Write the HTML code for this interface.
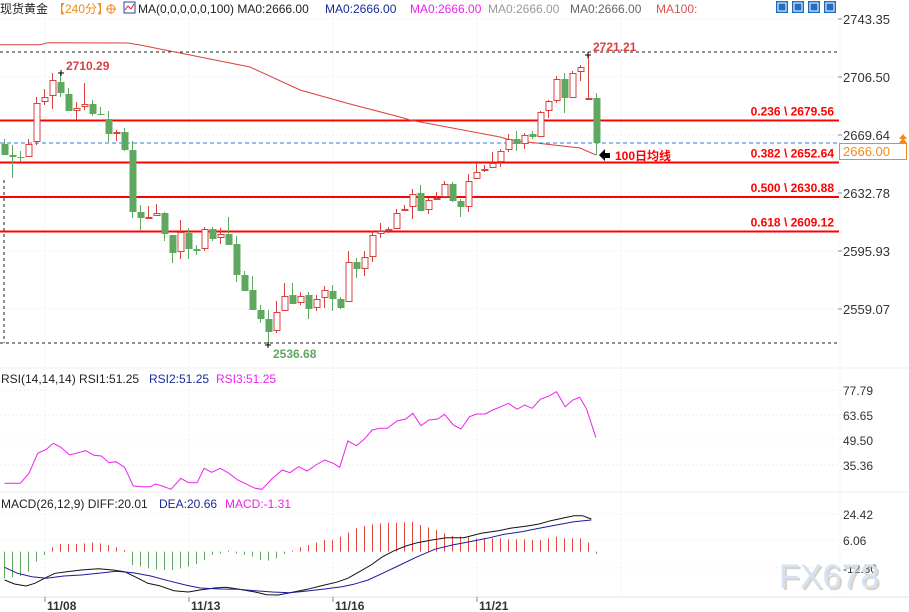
<!DOCTYPE html>
<html><head><meta charset="utf-8"><style>
html,body{margin:0;padding:0;background:#fff;}
body{width:909px;height:612px;overflow:hidden;position:relative;font-family:"Liberation Sans","Noto Sans CJK SC",sans-serif;}
svg{position:absolute;left:0;top:0;}
text{font-family:"Liberation Sans","Noto Sans CJK SC",sans-serif;}
</style></head><body>
<svg id="s" width="909" height="612" viewBox="0 0 909 612" xmlns="http://www.w3.org/2000/svg"></svg>
<script>
var S=document.getElementById('s'),h='';
function L(x1,y1,x2,y2,c,w,d){h+='<line x1="'+x1+'" y1="'+y1+'" x2="'+x2+'" y2="'+y2+'" stroke="'+c+'" stroke-width="'+(w||1)+'"'+(d?' stroke-dasharray="'+d+'"':'')+'/>';}
function T(x,y,t,c,sz,a,b){h+='<text x="'+x+'" y="'+y+'" fill="'+c+'" font-size="'+(sz||12)+'"'+(a?' text-anchor="'+a+'"':'')+(b?' font-weight="bold"':'')+'>'+t+'</text>';}
function P(pts,c,w){h+='<polyline fill="none" stroke="'+c+'" stroke-width="'+(w||1)+'" points="'+pts.map(function(p){return p[0]+','+p[1]}).join(' ')+'"/>';}
// grids
[19,77,135,193,251,309].forEach(function(y){L(0,y,839,y,'#e4e4e4',1,'1,3');});
[45,189,333,477,621].forEach(function(x){L(x,18,x,597,'#e4e4e4',1,'1,3');});
[390,415,440,465].forEach(function(y){L(0,y,839,y,'#e4e4e4',1,'1,3');});
[514,540,568].forEach(function(y){L(0,y,839,y,'#e4e4e4',1,'1,3');});
L(0,368,909,368,'#ececec',1);L(0,492,909,492,'#ececec',1);L(0,597,909,597,'#dde2e8',1);
L(840,18,840,597,'#e0e0e0',1,'1,3');
// header
T(0,13,'现货黄金','#222',12);T(53,13,'【240分】','#f08a1a',12);
h+='<circle cx="111" cy="9" r="4" fill="none" stroke="#f08a1a"/>';L(106,9,116,9,'#f08a1a');L(111,4,111,14,'#f08a1a');
h+='<rect x="124" y="2" width="11" height="11" fill="#fff" stroke="#2244aa"/>';P([[125,10],[128,6],[131,9],[134,4]],'#d22',1);
T(138,13,'MA(0,0,0,0,0,100) MA0:2666.00','#222',12);T(325,13,'MA0:2666.00','#1a2a9a',12);T(410,13,'MA0:2666.00','#ee22ee',12);T(488,13,'MA0:2666.00','#999',12);T(570,13,'MA0:2666.00','#666',12);T(656,13,'MA100:','#e05050',12);
[776,792,808,824].forEach(function(x){h+='<rect x="'+x+'" y="1" width="12" height="12" fill="#1f6fc0"/><rect x="'+(x+2)+'" y="3" width="8" height="8" fill="none" stroke="#fff"/>';});
// axis labels
[[19,'2743.35'],[77,'2706.50'],[135,'2669.64'],[193,'2632.78'],[251,'2595.93'],[309,'2559.07']].forEach(function(a){L(838,a[0],842,a[0],'#888');T(843,a[0]+5,a[1],'#333',13);});
// dashed
L(0,52,839,52,'#222',1,'3,3');L(0,343,839,343,'#222',1,'3,3');L(4,180,4,343,'#222',1,'3,3');
// fib lines
[[120.5,'0.236 \\ 2679.56'],[162.5,'0.382 \\ 2652.64'],[197,'0.500 \\ 2630.88'],[231.5,'0.618 \\ 2609.12']].forEach(function(a){L(0,a[0],839,a[0],'#ff0000',2);T(834,a[0]-5,a[1],'#ff0000',12,'end',1);});
L(0,143,839,143,'#2a7fd8',1,'4,3');
// MA100
P([[0,44.7],[40,44.7],[48,42.7],[128,43],[140,45],[175,52],[250,67],[300,90],[350,104],[400,117],[410,120],[500,137],[510,140],[580,148],[596,155]],'#d9413f',1);
// candles [x,o_top,o_bot,hi,lo,green]
var C=[[4,144,155,139,155,1],[12,155,157,145,178,1],[20,157,158,151,162,1],[28,144,157,139,157,0],[36,103,142,97,145,0],[44,97,102,89,105,0],[52,80,96,73,109,0],[60,82,93,73,97,1],[68,94,111,88,111,1],[76,108,111,102,120,0],[84,104,107,83,110,0],[92,104,114,100,116,1],[100,114,115,107,115,1],[108,119,134,111,142,1],[116,132,133,130,141,0],[124,132,150,128,151,1],[132,150,212,141,218,1],[140,212,218,205,230,1],[148,217,218,206,218,0],[156,213,216,204,216,0],[164,213,234,212,241,1],[172,235,253,235,263,1],[180,232,252,220,259,0],[188,233,249,228,259,1],[196,249,251,245,255,1],[204,229,249,227,251,0],[212,229,239,227,241,1],[220,234,238,228,244,0],[228,234,245,217,245,1],[236,244,275,236,282,1],[244,275,291,271,291,1],[252,290,310,276,310,1],[260,310,319,305,323,1],[268,319,332,310,345,1],[276,312,331,301,333,0],[284,296,311,283,311,0],[292,295,304,283,304,1],[300,296,303,292,305,0],[308,295,309,292,319,1],[316,299,308,295,311,0],[324,290,298,286,308,0],[332,291,299,285,311,1],[340,299,308,297,309,1],[348,262,302,251,302,0],[356,262,269,258,278,1],[364,257,269,251,276,0],[372,235,257,231,262,0],[380,231,234,223,238,0],[388,229,230,227,233,0],[396,213,229,209,229,0],[404,209,211,205,211,0],[412,194,207,189,219,0],[420,193,211,185,211,1],[428,200,210,198,214,0],[436,198,199,192,199,0],[444,184,197,181,197,0],[452,184,201,182,202,1],[460,201,207,199,217,1],[468,181,207,174,212,0],[476,172,179,161,179,0],[484,169,170,165,172,0],[492,163,168,152,168,0],[500,151,162,149,167,0],[508,139,150,134,152,0],[516,139,144,131,151,1],[524,135,144,133,149,0],[532,134,137,131,139,1],[540,112,137,111,137,0],[548,101,111,100,118,0],[556,79,101,76,103,0],[564,79,98,73,113,1],[572,73,98,71,98,0],[580,67,72,65,81,0],[588,98,100,55,100,0],[596,98,143,93,155,1]];
C.forEach(function(c){var col=c[5]?'#5fa85f':'#d9413f';L(c[0]+.5,c[3],c[0]+.5,c[4],col,1);
 if(c[5])h+='<rect x="'+(c[0]-2.5)+'" y="'+c[1]+'" width="7" height="'+Math.max(1,c[2]-c[1])+'" fill="'+col+'"/>';
 else h+='<rect x="'+(c[0]-2)+'" y="'+(c[1]+.5)+'" width="6" height="'+Math.max(1,c[2]-c[1]-1)+'" fill="#fff" stroke="'+col+'"/>';});
// markers
[[61,73],[588,55],[268,345]].forEach(function(m){L(m[0]-3,m[1],m[0]+3,m[1],'#000');L(m[0],m[1]-3,m[0],m[1]+3,'#000');});
T(66,70,'2710.29','#d9413f',12,0,1);T(593,51,'2721.21','#d9413f',12,0,1);T(273,358,'2536.68','#5fa85f',12,0,1);
// arrow + label
h+='<polygon points="599,155 605,149 605,153 610,153 610,158 605,158 605,161" fill="#000"/>';
T(615,160,'100日均线','#ff0000',12,0,1);
// orange price box
h+='<rect x="839.5" y="143.5" width="67" height="16" fill="#fff" stroke="#f08a1a"/>';T(843,156,'2666.00','#f08a1a',13);
h+='<polygon points="899,139 903,134 907,139" fill="#f08a1a"/><polygon points="899,143 903,138 907,143" fill="#f08a1a"/>';
// RSI
T(1,383,'RSI(14,14,14) RSI1:51.25','#222',12);T(149,383,'RSI2:51.25','#1a2a9a',12);T(216,383,'RSI3:51.25','#ee22ee',12);
[[390,'77.79'],[415,'63.65'],[440,'49.50'],[465,'35.36']].forEach(function(a){T(843,a[0]+5,a[1],'#333',12);});
var R=[[8,370],[35,370],[50,340],[65,280],[80,268],[92,250],[105,262],[120,285],[135,278],[148,272],[162,286],[175,288],[188,308],[200,305],[215,322],[230,378],[245,380],[260,380],[268,372],[280,378],[295,388],[312,355],[325,368],[340,368],[352,325],[365,337],[380,325],[395,340],[410,360],[440,385],[452,388],[470,355],[487,330],[500,338],[515,320],[530,333],[545,315],[560,300],[575,310],[586,322],[600,243],[615,257],[628,238],[642,210],[655,205],[668,205],[685,183],[700,177],[712,160],[726,197],[740,180],[755,177],[767,163],[782,195],[795,207],[810,170],[822,162],[837,162],[850,150],[864,140],[877,130],[892,148],[905,135],[918,145],[932,118],[948,107],[960,95],[975,140],[988,120],[1000,112],[1012,148],[1028,233]];
P(R.map(function(p){return [(p[0]/1.725).toFixed(1),(360+p[1]/3).toFixed(1)]}),'#ee22ee',1);
// MACD
T(1,508,'MACD(26,12,9) DIFF:20.01','#222',12);T(159,508,'DEA:20.66','#1a2a9a',12);T(225,508,'MACD:-1.31','#ee22ee',12);
[[514,'24.42'],[540,'6.06'],[568,'-12.30']].forEach(function(a){T(843,a[0]+5,a[1],'#333',12);});
var Hh=[265,262,258,245,215,195,172,162,162,162,160,158,160,165,172,180,225,230,235,238,240,240,235,230,222,210,195,190,182,190,195,200,210,212,205,192,182,172,165,158,150,150,140,128,115,108,103,100,98,98,97,95,105,112,120,130,138,140,142,145,145,145,145,148,148,148,150,150,145,140,145,145,145,158,192];
var base=490+185/3;
Hh.forEach(function(v,i){var x=4+8*i+.5,y=490+v/3;var red=(v<185&&!(i>=16&&i<=28&&v>182&&false));if(i>=16&&i<=35&&i!=28)red=false;if(i==28)red=true;if(i<6||i==74)red=false;L(x,base,x,y,red?'#e04a3a':'#5fa85f',1);});
var D=[[8,270],[25,282],[45,288],[60,280],[80,262],[95,250],[115,245],[140,240],[170,236],[195,240],[215,245],[235,262],[255,280],[275,287],[300,302],[325,306],[345,300],[370,294],[390,292],[410,297],[440,306],[460,314],[480,315],[500,308],[530,298],[560,285],[580,277],[600,265],[620,245],[640,225],[660,200],[680,182],[700,168],[720,158],[745,150],[770,143],[800,143],[830,130],[860,122],[880,115],[910,108],[930,102],[950,92],[970,85],[990,77],[1005,77],[1020,87]];
var E=[[8,232],[30,250],[55,260],[80,265],[110,258],[140,255],[170,250],[200,244],[230,248],[260,258],[290,272],[320,285],[345,294],[380,297],[410,298],[440,302],[470,306],[500,308],[530,303],[560,297],[590,290],[610,283],[635,270],[660,250],[690,225],[720,200],[750,178],[780,165],[810,155],[840,145],[870,133],[900,125],[930,115],[960,105],[990,95],[1020,90]];
function cv(a){return a.map(function(p){return [(p[0]/1.725).toFixed(1),(490+p[1]/3).toFixed(1)]});}
P(cv(D),'#111',1);P(cv(E),'#1a1aa0',1);
// dates
[[45,'11/08'],[189,'11/13'],[333,'11/16'],[477,'11/21']].forEach(function(a){L(a[0],597,a[0],602,'#888');T(a[0]+2,610,a[1],'#333',12,0,1);});
// watermark
h+='<text x="781" y="590" font-size="34" fill="#b9a58f" opacity="0.5">FX678</text><text x="779" y="588" font-size="34" fill="#d4e3f4">FX678</text>';
S.innerHTML=h;
</script>
</body></html>
